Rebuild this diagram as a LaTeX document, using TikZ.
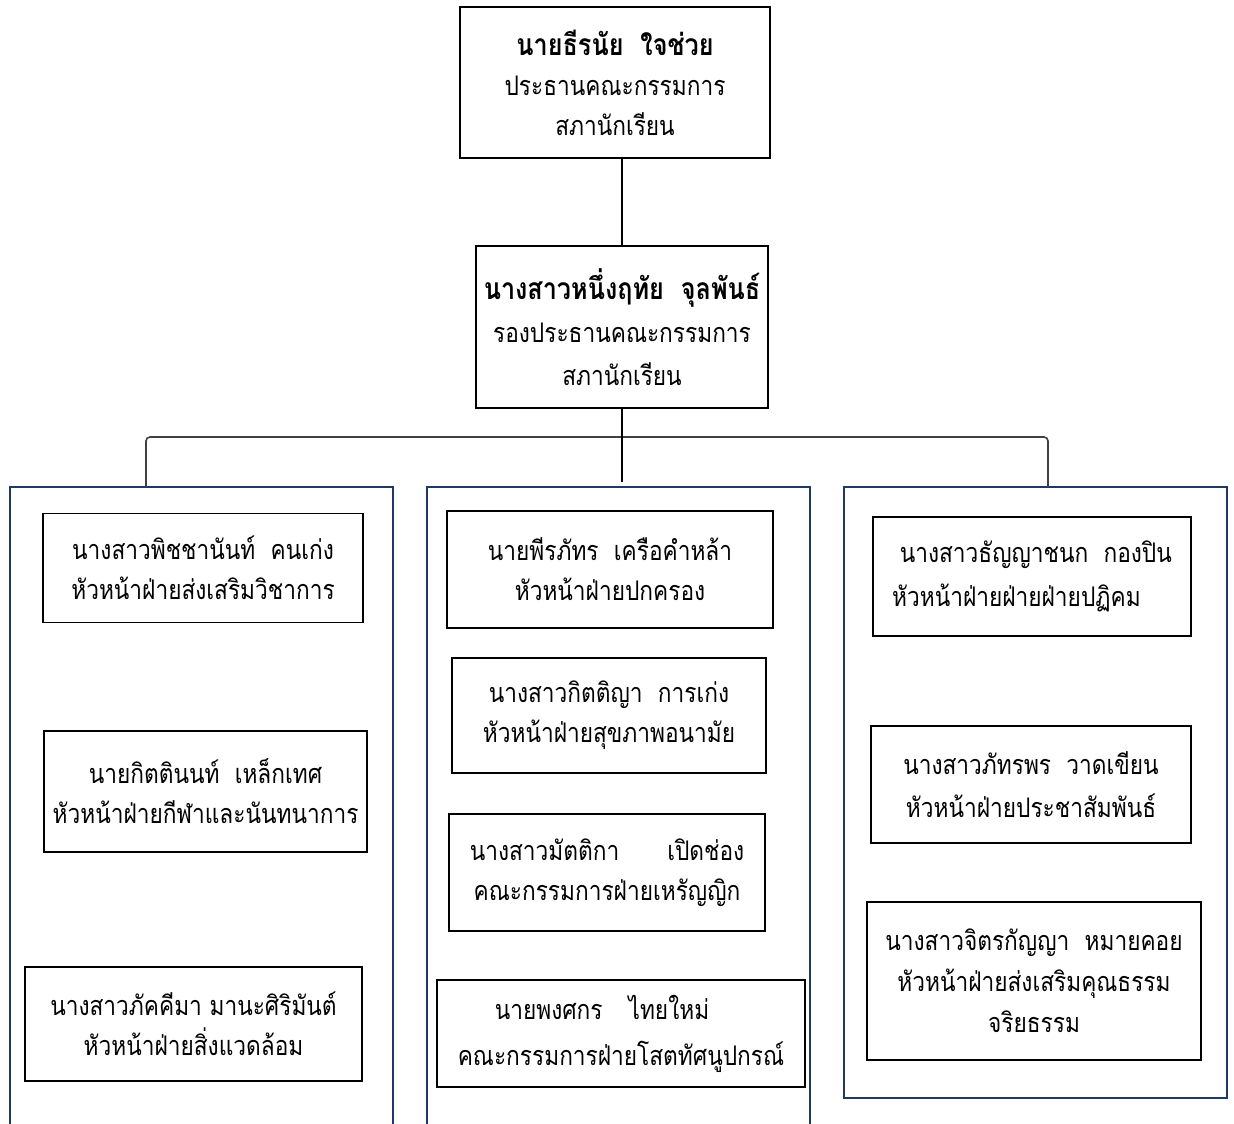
\documentclass[tikz,border=0pt]{standalone}
\usepackage{fontspec}
\newfontfamily\thaifont[Script=Thai, FakeStretch=0.84]{Loma}
\definecolor{navy}{HTML}{1F3864}
\newcommand{\headname}[1]{{\fontsize{30}{40}\selectfont\bfseries #1}}
\tikzset{
  box/.style={draw=black, line width=1.5pt, fill=white, inner sep=0pt, align=center,
    font={\thaifont\fontsize{27}{40}\selectfont}},
  panel/.style={draw=navy, line width=2.5pt},
  conn/.style={draw=black, line width=2pt},
  brace/.style={draw=black!75, line width=1.6pt, rounded corners=4pt}
}
\begin{document}
\begin{tikzpicture}[x=1pt,y=-1pt]
\useasboundingbox (0,0) rectangle (1234,1124);
\fill[white] (0,0) rectangle (1234,1124);
% panels
\draw[panel] (10,1130) -- (10,487) -- (393,487) -- (393,1130);
\draw[panel] (427,1130) -- (427,487) -- (810,487) -- (810,1130);
\draw[panel] (844,487) rectangle (1227,1098);
% top boxes
\node[box, minimum width=310pt, minimum height=151pt] (pres) at (615,82.5)
  {\headname{นายธีรนัย\ \ ใจช่วย}\\ประธานคณะกรรมการ\\สภานักเรียน};
\node[box, minimum width=292pt, minimum height=162pt, font={\thaifont\fontsize{27}{43}\selectfont}] (vice) at (622,327)
  {\headname{นางสาวหนึ่งฤทัย\ \ จุลพันธ์}\\รองประธานคณะกรรมการ\\สภานักเรียน};
% connectors
\coordinate (hub) at (622,482);
\coordinate (pl) at (146,487);
\coordinate (pr) at (1048,487);
\coordinate (bl) at (146,437);
\coordinate (br) at (1048,437);
\draw[conn] (pres.south -| 622,0) -- (vice.north -| 622,0);
\draw[brace] (pl) -- (bl) -- (br) -- (pr);
\draw[conn] (vice.south -| 622,0) -- (hub);
% left panel
\node[box, minimum width=320pt, minimum height=109pt] (l1) at (203,568)
  {นางสาวพิชชานันท์\ \ คนเก่ง\\หัวหน้าฝ่ายส่งเสริมวิชาการ};
\node[box, minimum width=323pt, minimum height=121pt] (l2) at (205.5,791.5)
  {นายกิตตินนท์\ \ เหล็กเทศ\\หัวหน้าฝ่ายกีฬาและนันทนาการ};
\node[box, minimum width=337pt, minimum height=114pt] (l3) at (193.5,1024)
  {นางสาวภัคคีมา มานะศิริมันต์\\หัวหน้าฝ่ายสิ่งแวดล้อม};
% center panel
\node[box, minimum width=326pt, minimum height=117pt] (c1) at (610,569.5)
  {นายพีรภัทร\ \ เครือคำหล้า\\หัวหน้าฝ่ายปกครอง};
\node[box, minimum width=314pt, minimum height=115pt] (c2) at (609,715.5)
  {นางสาวกิตติญา\ \ การเก่ง\\หัวหน้าฝ่ายสุขภาพอนามัย};
\node[box, minimum width=316pt, minimum height=117pt] (c3) at (607,872.5)
  {นางสาวมัตติกา\hspace{48pt}เปิดช่อง\\คณะกรรมการฝ่ายเหรัญญิก};
\node[box, minimum width=368pt, minimum height=107pt, font={\thaifont\fontsize{27}{46}\selectfont}] (c4) at (621,1033.5)
  {นายพงศกร\hspace{26pt}ไทยใหม่\hspace*{38pt}\\คณะกรรมการฝ่ายโสตทัศนูปกรณ์};
% right panel
\node[box, minimum width=318pt, minimum height=119pt, align=left, font={\thaifont\fontsize{27}{44}\selectfont}] (r1) at (1032,576.5)
  {\ นางสาวธัญญาชนก\ \ กองปิน\\หัวหน้าฝ่ายฝ่ายฝ่ายปฏิคม};
\node[box, minimum width=320pt, minimum height=117pt, font={\thaifont\fontsize{27}{43}\selectfont}] (r2) at (1031,784.5)
  {นางสาวภัทรพร\ \ วาดเขียน\\หัวหน้าฝ่ายประชาสัมพันธ์};
\node[box, minimum width=334pt, minimum height=158pt, font={\thaifont\fontsize{27}{41}\selectfont}] (r3) at (1034,981)
  {นางสาวจิตรกัญญา\ \ หมายคอย\\หัวหน้าฝ่ายส่งเสริมคุณธรรม\\จริยธรรม};
\end{tikzpicture}
\end{document}
